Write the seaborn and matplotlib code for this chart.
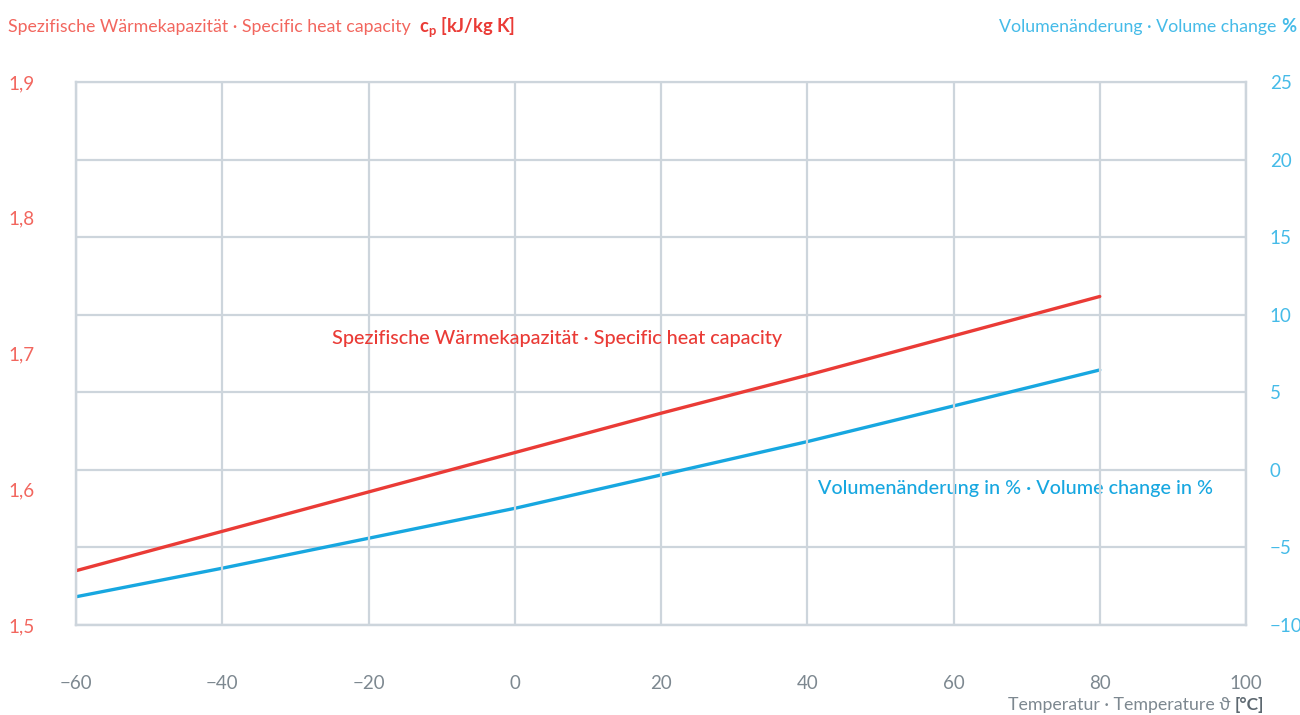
import matplotlib
matplotlib.use("Agg")
import matplotlib.pyplot as plt
import seaborn as sns
import pandas as pd

# ---- data ----
temps = [-60, -40, -20, 0, 20, 40, 60, 80]
heat_capacity = [1.540, 1.569, 1.598, 1.627, 1.656, 1.684, 1.713, 1.742]
volume_change = [-8.18, -6.34, -4.41, -2.48, -0.33, 1.82, 4.12, 6.44]
x_ticks = [-60, -40, -20, 0, 20, 40, 60, 80, 100]
left_ticks = [1.5, 1.6, 1.7, 1.8, 1.9]
left_labels = ["1,5", "1,6", "1,7", "1,8", "1,9"]
right_ticks = [-10, -5, 0, 5, 10, 15, 20, 25]
right_labels = ["\u221210", "\u22125", "0", "5", "10", "15", "20", "25"]
x_labels = ["\u221260", "\u221240", "\u221220", "0", "20", "40", "60", "80", "100"]

RED = "#ea3b36"
SALMON = "#f2665e"
BLUE = "#17a7e0"
LBLUE = "#45bbe8"
GRID = "#cdd5dc"
GREY = "#7d8890"

sns.set_theme(style="white")
plt.rcParams["font.family"] = ["Lato", "DejaVu Sans"]

df = pd.DataFrame({"t": temps, "cp": heat_capacity, "vol": volume_change})

fig = plt.figure(figsize=(13, 7.15), dpi=100)
ax = fig.add_axes([76 / 1300, 90 / 715, 1170 / 1300, 543 / 715])
ax2 = ax.twinx()

# grid drawn on the right axis (every 5 %)
ax2.set_ylim(-10, 25)
ax2.set_yticks(right_ticks)
ax2.set_yticklabels(right_labels, color=LBLUE, fontsize=13.5)
ax2.grid(axis="y", color=GRID, linewidth=1.6)
ax.set_xlim(-60, 100)
ax.set_xticks(x_ticks)
ax.set_xticklabels(x_labels, color=GREY, fontsize=13.5)
ax.grid(axis="x", color=GRID, linewidth=1.6)
ax2.set_axisbelow(True)

ax.set_ylim(1.5, 1.9)
ax.set_yticks(left_ticks)
ax.set_yticklabels(left_labels, color=SALMON, fontsize=13.5)

for a in (ax, ax2):
    for s in a.spines.values():
        s.set_color(GRID)
        s.set_linewidth(1.6)
    a.tick_params(length=0)
ax.spines["top"].set_visible(False)

ax.tick_params(axis="x", pad=36)
ax.tick_params(axis="y", pad=49)
for lab in ax.get_yticklabels():
    lab.set_horizontalalignment("left")
ax2.tick_params(axis="y", pad=17)

ax2.set_zorder(1)
ax.set_zorder(2)
ax.patch.set_visible(False)

sns.lineplot(data=df, x="t", y="cp", ax=ax, color=RED, linewidth=2.4)
sns.lineplot(data=df, x="t", y="vol", ax=ax2, color=BLUE, linewidth=2.4)
ax.set_xlabel("")
ax.set_ylabel("")
ax2.set_ylabel("")

# inline labels
ax.text(-25.0, 1.711, "Spezifische Wärmekapazität · Specific heat capacity",
        color=RED, fontsize=14.2, fontweight="medium", va="center", ha="left")
ax2.text(41.5, -1.2, "Volumenänderung in % · Volume change in %",
         color=BLUE, fontsize=14.2, fontweight="medium", va="center", ha="left")

# top titles
t1 = fig.text(8 / 1300, 1 - 27 / 715, "Spezifische Wärmekapazität · Specific heat capacity",
              color=SALMON, fontsize=12.8, va="center", ha="left")
ax.annotate(r"c$_\mathregular{p}$ [kJ/kg K]", xy=(1, 0.5), xycoords=t1,
            xytext=(6, 0), textcoords="offset points", color=RED, fontsize=13.2,
            fontweight="bold", va="center", ha="left", annotation_clip=False)

p2 = fig.text(1296 / 1300, 1 - 27 / 715, "%", color=LBLUE, fontsize=13.2,
              fontweight="bold", va="center", ha="right")
ax.annotate("Volumenänderung · Volume change ", xy=(0, 0.5), xycoords=p2,
            xytext=(0, 0), textcoords="offset points", color=LBLUE, fontsize=12.8,
            va="center", ha="right", annotation_clip=False)

# x-axis title
p3 = fig.text(1264 / 1300, 1 - 705 / 715, "[°C]", color="#5d6870", fontsize=12.5,
              fontweight="bold", va="center", ha="right")
ax.annotate("Temperatur · Temperature \u03d1 ", xy=(0, 0.5), xycoords=p3,
            xytext=(0, 0), textcoords="offset points", color=GREY, fontsize=12.8,
            va="center", ha="right", annotation_clip=False)

fig.savefig("out.png", dpi=100, facecolor="white")
